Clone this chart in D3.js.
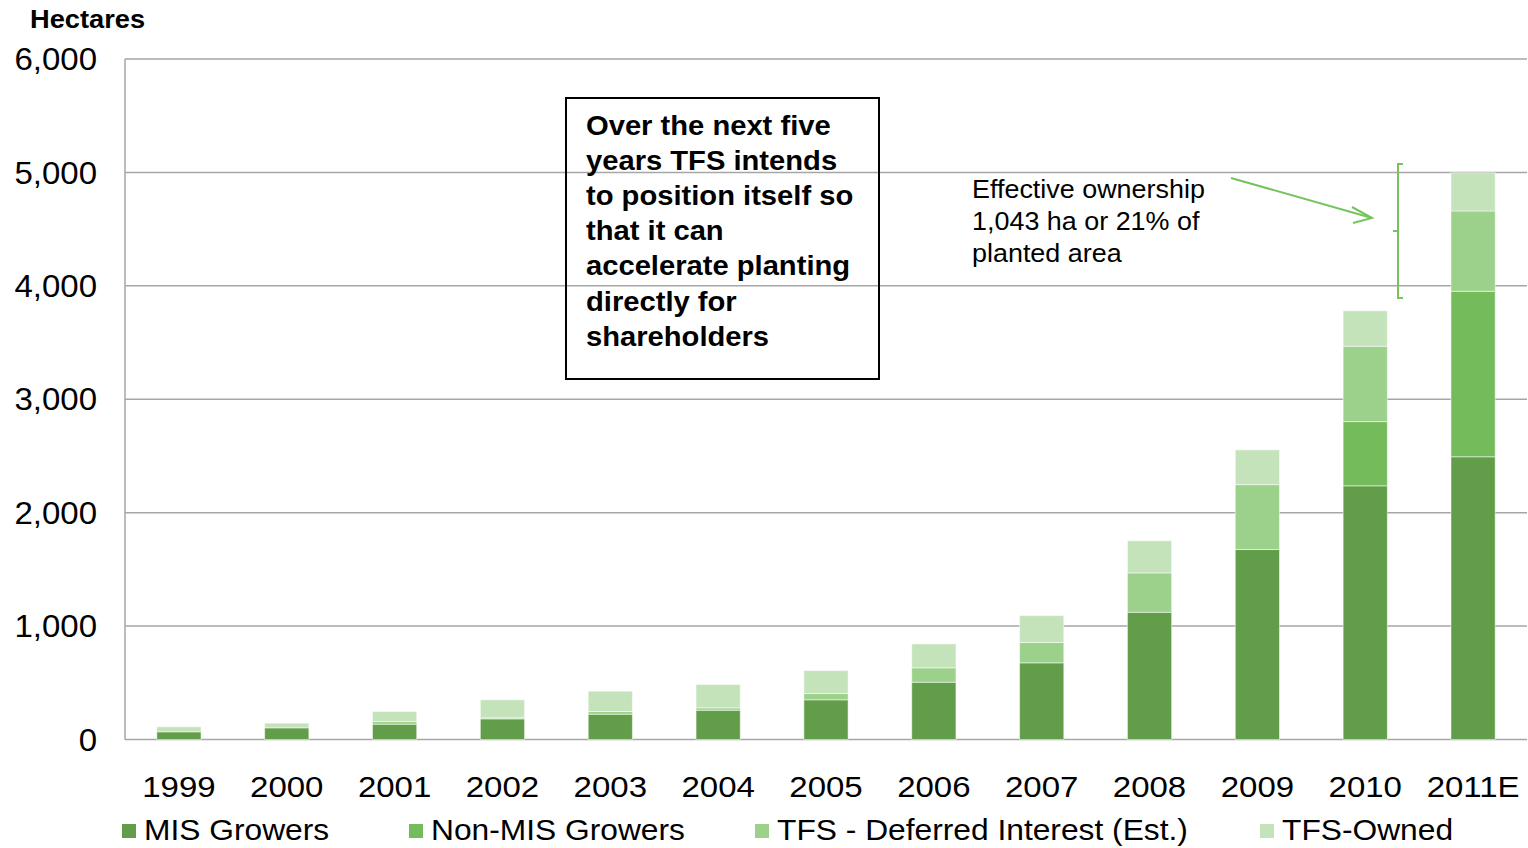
<!DOCTYPE html>
<html><head><meta charset="utf-8">
<script src="https://cdn.jsdelivr.net/npm/d3@7"></script>
<style>
html,body{margin:0;padding:0;background:#fff;}
svg{display:block;font-family:"Liberation Sans",Arial,sans-serif;}
</style></head>
<body>
<svg id="chart" width="1528" height="848"></svg>
<script>
const years = ["1999","2000","2001","2002","2003","2004","2005","2006","2007","2008","2009","2010","2011E"];
const misGrowers = [68,103,135,182,223,258,350,505,676,1122,1675,2237,2493];
const nonMisGrowers = [0,0,0,0,0,0,0,0,0,0,0,566,1459];
const tfsDeferred = [0,0,24,9,24,21,55,127,179,347,572,664,708];
const tfsOwned = [44,41,88,159,179,206,203,211,237,283,307,313,337];
const seriesNames = ["MIS Growers","Non-MIS Growers","TFS - Deferred Interest (Est.)","TFS-Owned"];
const seriesKeys = ["mis","nonMis","deferred","owned"];
const yTicks = [0,1000,2000,3000,4000,5000,6000];
const boxLines = ["Over the next five","years TFS intends","to position itself so","that it can","accelerate planting","directly for","shareholders"];
const noteLines = ["Effective ownership","1,043 ha or 21% of","planted area"];
const colors = ["#629e4a","#74bb5b","#9bd18a","#c4e3bb"];

const rows = years.map((yr,i)=>({year:yr, mis:misGrowers[i], nonMis:nonMisGrowers[i], deferred:tfsDeferred[i], owned:tfsOwned[i]}));
const stacked = d3.stack().keys(seriesKeys)(rows);

const svg = d3.select("#chart");
const plotL = 125, plotR = 1527, plotT = 59, plotB = 739.5;
const x = d3.scaleBand().domain(years).range([plotL,plotR]).paddingInner(0.59).paddingOuter(0.295);
const y = d3.scaleLinear().domain([0,6000]).range([plotB,plotT]);
const tr = (px,py,sx)=>`translate(${px},${py}) scale(${sx},1)`;

// gridlines
svg.append("g").selectAll("line").data(yTicks).join("line")
  .attr("x1",plotL).attr("x2",plotR)
  .attr("y1",d=>y(d)).attr("y2",d=>y(d))
  .attr("stroke","#a6a6a6").attr("stroke-width",1.5);
// left axis line
svg.append("line").attr("x1",plotL).attr("x2",plotL).attr("y1",plotT).attr("y2",plotB)
  .attr("stroke","#a6a6a6").attr("stroke-width",1.5);

// y labels
svg.append("g").selectAll("text").data(yTicks).join("text")
  .attr("transform",d=>tr(97,y(d),1.065)).attr("dy","0.36em")
  .attr("text-anchor","end").attr("font-size",31).attr("fill","#000")
  .text(d=>d3.format(",")(d));

svg.append("text").attr("transform",tr(30,28,1.09)).attr("font-size",25).attr("font-weight","bold")
  .text("Hectares");

// bars
svg.append("g").selectAll("g").data(stacked).join("g")
  .attr("fill",(d,i)=>colors[i])
  .selectAll("rect").data(d=>d.filter(p=>p[1]-p[0]>0)).join("rect")
  .attr("x",d=>x(d.data.year)).attr("width",x.bandwidth())
  .attr("y",d=>y(d[1])).attr("height",d=>y(d[0])-y(d[1]))
  .attr("stroke","#ffffff").attr("stroke-opacity",0.5).attr("stroke-width",1);

// x labels
svg.append("g").selectAll("text").data(years).join("text")
  .attr("transform",d=>tr(x(d)+x.bandwidth()/2,797,1.1))
  .attr("text-anchor","middle").attr("font-size",30).text(d=>d);

// legend
const legX = [122,409,755,1260];
const leg = svg.append("g").selectAll("g").data(seriesNames).join("g")
  .attr("transform",(d,i)=>`translate(${legX[i]},0)`);
leg.append("rect").attr("x",0).attr("y",824).attr("width",14).attr("height",14).attr("fill",(d,i)=>colors[i]);
leg.append("text").attr("transform",tr(22,840,1.095)).attr("font-size",29).text(d=>d);

// text box
svg.append("rect").attr("x",566).attr("y",98).attr("width",313).attr("height",281)
  .attr("fill","none").attr("stroke","#000").attr("stroke-width",2);
svg.append("g").selectAll("text").data(boxLines).join("text")
  .attr("transform",(d,i)=>tr(586,135+i*35.1,1.08))
  .attr("font-size",27).attr("font-weight","bold").text(d=>d);

// note
svg.append("g").selectAll("text").data(noteLines).join("text")
  .attr("transform",(d,i)=>tr(972,198+i*32,1.077))
  .attr("font-size",25).text(d=>d);

// arrow
const green = "#76c35e";
svg.append("line").attr("x1",1231).attr("y1",178).attr("x2",1372).attr("y2",218)
  .attr("stroke",green).attr("stroke-width",2);
svg.append("path").attr("d","M1352,207 L1372,218 L1353,223")
  .attr("fill","none").attr("stroke",green).attr("stroke-width",2);
// bracket
svg.append("path").attr("d","M1403,164 L1398,164 L1398,298 L1403,298 M1398,231 L1393,231")
  .attr("fill","none").attr("stroke",green).attr("stroke-width",2);
</script>
</body></html>
